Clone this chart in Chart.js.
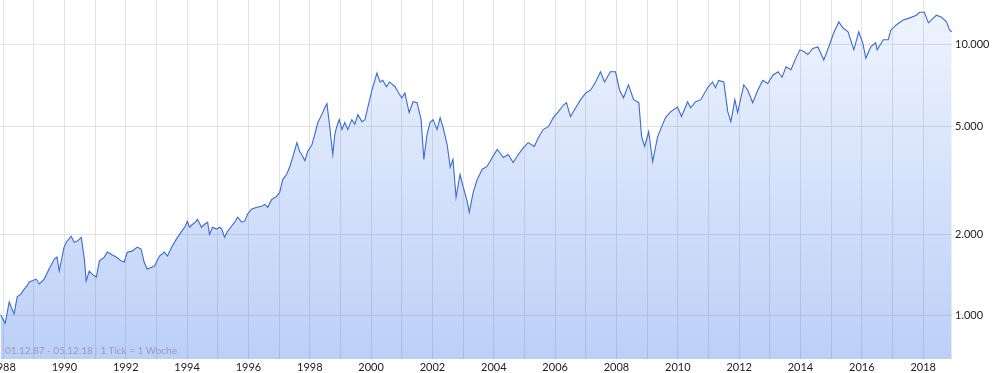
<!DOCTYPE html>
<html>
<head>
<meta charset="utf-8">
<script src="https://cdn.jsdelivr.net/npm/chart.js@4/dist/chart.umd.min.js"></script>
<style>
  html, body { margin: 0; padding: 0; background: #fff; }
  #wrap { position: relative; width: 998px; height: 373px; overflow: hidden; }
  #c { position: absolute; left: 0; top: 0; }
  #note { position: absolute; left: 5px; top: 344px; font-family: Lato, "Open Sans", sans-serif; font-size: 10px; color: #9a9fae; white-space: pre; }
  #note .sep { color: #b4c2dc; }
</style>
</head>
<body>
<div id="wrap">
  <canvas id="c" width="998" height="373"></canvas>
  <div id="note">01.12.87 - 05.12.18 <span class="sep">|</span> 1 Tick = 1 Woche</div>
</div>
<script>
// time positions (decimal years)
const timeYears = [
  1987.92,1988.07,1988.2,1988.36,1988.46,1988.59,1988.69,1988.78,1988.85,
  1989.08,1989.18,1989.34,1989.5,1989.67,1989.76,1989.83,1989.99,
  1990.06,1990.22,1990.32,1990.42,1990.55,1990.65,1990.71,1990.81,1990.9,
  1991.04,1991.14,1991.3,1991.4,1991.55,1991.69,1991.86,1991.95,
  1992.05,1992.2,1992.38,1992.5,1992.6,1992.7,1992.84,1992.93,
  1993.1,1993.26,1993.36,1993.5,1993.65,1993.82,1993.92,
  1994.01,1994.08,1994.18,1994.27,1994.34,1994.47,1994.57,1994.67,1994.73,1994.83,1994.96,
  1995.06,1995.13,1995.22,1995.32,1995.45,1995.55,1995.65,1995.78,1995.88,1995.97,
  1996.1,1996.27,1996.43,1996.53,1996.63,1996.76,1996.92,
  1997.02,1997.12,1997.25,1997.35,1997.44,1997.58,1997.67,1997.74,1997.84,1997.93,
  1998.07,1998.16,1998.26,1998.39,1998.49,1998.56,1998.65,1998.75,1998.82,1998.88,1998.96,
  1999.05,1999.14,1999.24,1999.37,1999.47,1999.57,1999.7,1999.8,1999.9,
  2000.03,2000.19,2000.29,2000.38,2000.5,2000.6,2000.78,2000.88,
  2001.0,2001.1,2001.24,2001.37,2001.5,2001.63,2001.72,2001.82,2001.92,
  2002.02,2002.15,2002.25,2002.35,2002.48,2002.58,2002.67,2002.77,2002.9,
  2003.0,2003.13,2003.2,2003.33,2003.46,2003.62,2003.78,2003.95,
  2004.11,2004.2,2004.31,2004.47,2004.63,2004.8,2004.96,
  2005.12,2005.32,2005.45,2005.61,2005.78,2005.94,
  2006.1,2006.27,2006.37,2006.5,2006.67,2006.83,
  2007.0,2007.16,2007.32,2007.48,2007.61,2007.8,2007.97,
  2008.1,2008.23,2008.39,2008.56,2008.73,2008.82,2008.92,
  2009.05,2009.18,2009.34,2009.5,2009.6,2009.76,2009.99,
  2010.12,2010.32,2010.42,2010.58,2010.75,2010.97,
  2011.13,2011.23,2011.33,2011.5,2011.63,2011.73,2011.86,2011.95,
  2012.15,2012.28,2012.44,2012.61,2012.77,2012.93,
  2013.1,2013.27,2013.4,2013.53,2013.69,2013.85,2013.98,
  2014.11,2014.24,2014.4,2014.57,2014.76,2014.92,
  2015.08,2015.25,2015.38,2015.55,2015.74,2015.9,
  2016.03,2016.13,2016.29,2016.45,2016.5,2016.7,2016.86,2016.95,
  2017.12,2017.35,2017.55,2017.78,2017.88,
  2018.04,2018.17,2018.33,2018.43,2018.6,2018.76,2018.86,2018.93
];
// index values
const indexValues = [
  1010,940,1125,1017,1175,1205,1256,1289,1333,
  1367,1311,1367,1488,1620,1648,1464,1793,
  1870,1968,1870,1887,1950,1620,1345,1464,1426,
  1391,1593,1648,1719,1680,1648,1593,1580,
  1719,1733,1793,1763,1580,1488,1512,1525,
  1662,1719,1662,1795,1919,2051,2124,
  2236,2124,2178,2217,2273,2124,2178,2217,2000,2124,2090,
  2124,2090,1950,2051,2142,2217,2312,2217,2236,2372,
  2475,2517,2540,2580,2517,2690,2760,
  2860,3190,3330,3560,3840,4360,4040,3940,3740,4040,
  4280,4660,5160,5530,5860,6070,5000,3940,4700,4990,5300,
  4870,5170,4870,5300,5100,5530,5210,5300,5930,
  6820,7870,7300,7400,7010,7300,7010,6700,
  6370,6650,5630,6170,6120,5300,3780,4660,5170,
  5300,4870,5380,4950,4280,3540,3780,2740,3330,
  3000,2650,2410,2860,3190,3470,3560,3840,
  4110,4000,3840,3940,3680,3940,4170,
  4360,4220,4540,4870,4990,5390,
  5660,6000,6120,5440,5860,6280,
  6650,6820,7300,7960,7300,7960,7960,
  6820,6380,7120,6280,6120,4580,4220,
  4790,3710,4580,5080,5390,5660,5900,
  5440,6170,5860,6170,6280,6950,
  7300,6950,7400,7300,5660,5210,6280,5630,
  7120,6820,6120,6820,7400,7200,
  7730,7960,7600,8300,8100,8940,9590,
  9460,9220,9700,9830,8800,9830,
  11070,12160,11570,11180,9590,11180,
  10180,8940,9830,10180,9590,10450,10450,11360,
  11850,12350,12560,12870,13200,
  13200,12060,12560,12870,12650,12160,11360,11180
];
const gridYears = [1988,1989,1990,1991,1992,1993,1994,1995,1996,1997,1998,1999,2000,2001,2002,2003,2004,2005,2006,2007,2008,2009,2010,2011,2012,2013,2014,2015,2016,2017,2018];
const labelYears = [1988,1990,1992,1994,1996,1998,2000,2002,2004,2006,2008,2010,2012,2014,2016,2018];
const yTicks = [1000,2000,5000,10000];
const yTickLabels = ['1.000','2.000','5.000','10.000'];

const points = timeYears.map((t, i) => ({ x: t, y: indexValues[i] }));

function fillGradient(ctx) {
  const area = ctx.chart.chartArea;
  if (!area) return 'rgba(45,105,230,0.2)';
  const g = ctx.chart.ctx.createLinearGradient(0, area.top, 0, area.bottom);
  g.addColorStop(0, 'rgba(45,110,235,0.07)');
  g.addColorStop(1, 'rgba(45,105,230,0.32)');
  return g;
}

new Chart(document.getElementById('c'), {
  type: 'line',
  data: {
    datasets: [{
      data: points,
      borderColor: '#3a6bcf',
      borderWidth: 1.1,
      pointRadius: 0,
      tension: 0,
      fill: 'start',
      backgroundColor: fillGradient
    }]
  },
  options: {
    responsive: false,
    devicePixelRatio: 1,
    animation: false,
    events: [],
    layout: { padding: 0 },
    plugins: { legend: { display: false }, tooltip: { enabled: false } },
    scales: {
      x: {
        type: 'linear',
        min: 1987.9,
        max: 2018.94,
        afterBuildTicks: s => { s.ticks = gridYears.map(v => ({ value: v })); },
        afterFit: s => { s.height = 14; s.paddingLeft = 0; s.paddingRight = 0; },
        ticks: {
          autoSkip: false,
          maxRotation: 0,
          padding: 2,
          color: '#222',
          font: { family: 'Lato', size: 11 },
          callback: v => labelYears.includes(v) ? String(v) : ''
        },
        grid: { color: '#e3e3e3', lineWidth: 1, drawTicks: false },
        border: { display: false }
      },
      y: {
        type: 'logarithmic',
        position: 'right',
        min: 693,
        max: 14650,
        afterBuildTicks: s => { s.ticks = yTicks.map(v => ({ value: v })); },
        afterFit: s => { s.width = 46; s.paddingTop = 0; s.paddingBottom = 0; },
        ticks: {
          padding: 3,
          color: '#222',
          font: { family: 'Lato', size: 11 },
          callback: v => { const i = yTicks.indexOf(v); return i >= 0 ? yTickLabels[i] : ''; }
        },
        grid: { color: '#e3e3e3', lineWidth: 1, drawTicks: false },
        border: { display: false }
      }
    }
  }
});
</script>
</body>
</html>
